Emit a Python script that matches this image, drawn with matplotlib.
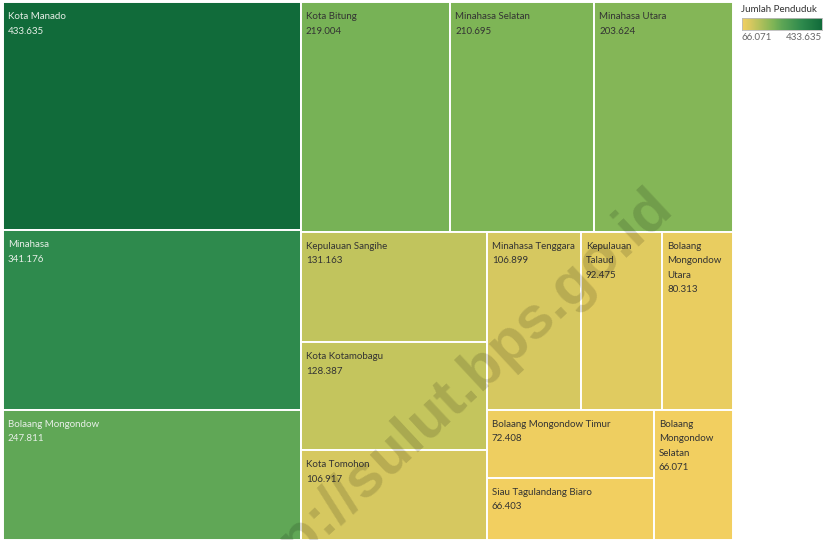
import numpy as np
import matplotlib.pyplot as plt
from matplotlib.colors import LinearSegmentedColormap, Normalize
from matplotlib.patches import Rectangle

# data (Jumlah Penduduk per kabupaten/kota, Sulawesi Utara)
regions = ["Kota Manado", "Minahasa", "Bolaang Mongondow", "Kota Bitung",
           "Minahasa Selatan", "Minahasa Utara", "Kepulauan Sangihe",
           "Kota Kotamobagu", "Kota Tomohon", "Minahasa Tenggara",
           "Kepulauan\nTalaud", "Bolaang\nMongondow\nUtara",
           "Bolaang Mongondow Timur", "Siau Tagulandang Biaro",
           "Bolaang\nMongondow\nSelatan"]
population = [433635, 341176, 247811, 219004, 210695, 203624, 131163,
              128387, 106917, 106899, 92475, 80313, 72408, 66403, 66071]

plt.rcParams['font.family'] = ['Lato', 'DejaVu Sans']

W, H = 730.0, 538.0

cmap = LinearSegmentedColormap.from_list("gold_green", [
    (0.00, "#f2cf60"), (0.11, "#d6c860"), (0.18, "#c0c45d"),
    (0.40, "#7cb456"), (0.50, "#5ea656"), (0.75, "#2e8a4d"),
    (1.00, "#116b3a")])
norm = Normalize(min(population), max(population))


def fmt(v):
    return f"{v:,}".replace(",", ".")


def worst(areas, length):
    # deviation of box shape from a 2:1 (thickness : length) target
    thick = sum(areas) / length
    return max(abs(np.log(thick * thick / a / 2.0)) for a in areas)


def treemap(areas, x, y, w, h):
    rects = []
    while areas:
        length = min(w, h)
        n = 1
        while n < len(areas) and worst(areas[:n + 1], length) <= worst(areas[:n], length):
            n += 1
        strip = areas[:n]
        thick = sum(strip) / length
        pos = 0
        for a in strip:
            size = a / thick
            if w >= h:
                rects.append((x, y + pos, thick, size))
            else:
                rects.append((x + pos, y, size, thick))
            pos += size
        if w >= h:
            x += thick
            w -= thick
        else:
            y += thick
            h -= thick
        areas = areas[n:]
    return rects


total = sum(population)
areas = [p / total * W * H for p in population]
rects = treemap(areas, 0, 0, W, H)

fig = plt.figure(figsize=(8.26, 5.4), dpi=100)
ax = fig.add_axes([3 / 826, 0, W / 826, H / 540])
ax.set_xlim(0, W)
ax.set_ylim(H, 0)
ax.axis("off")

for (x, y, w, h), name, val in zip(rects, regions, population):
    col = cmap(norm(val))
    ax.add_patch(Rectangle((x, y), w, h, facecolor=col, edgecolor="white", linewidth=1.4))
    lum = 0.299 * col[0] + 0.587 * col[1] + 0.114 * col[2]
    tc = "#e8efe8" if lum < 0.55 else "#333333"
    ax.text(x + 5, y + 10, f"{name}\n{fmt(val)}", ha="left", va="top",
            fontsize=7, linespacing=1.8, color=tc)

# watermark
fig.text(448 / 826, 1 - 399 / 540, "http://sulut.bps.go.id", rotation=43,
         ha="center", va="center", fontsize=43, fontweight="bold",
         family="Liberation Sans", color="black", alpha=0.14,
         rotation_mode="anchor", clip_on=True)

# legend
fig.text(741 / 826, 1 - 10 / 540, "Jumlah Penduduk", fontsize=7, va="center",
         ha="left", color="#333333")
cax = fig.add_axes([742 / 826, 1 - 30 / 540, 80 / 826, 12 / 540])
cax.imshow(np.linspace(0, 1, 256)[None, :], aspect="auto", cmap=cmap)
cax.set_xticks([])
cax.set_yticks([])
for s in cax.spines.values():
    s.set_color("#bbbbbb")
    s.set_linewidth(0.6)
fig.text(742 / 826, 1 - 38 / 540, fmt(min(population)), fontsize=7,
         va="center", ha="left", color="#666666")
fig.text(822 / 826, 1 - 38 / 540, fmt(max(population)), fontsize=7,
         va="center", ha="right", color="#666666")

fig.savefig("out.png", dpi=100)
